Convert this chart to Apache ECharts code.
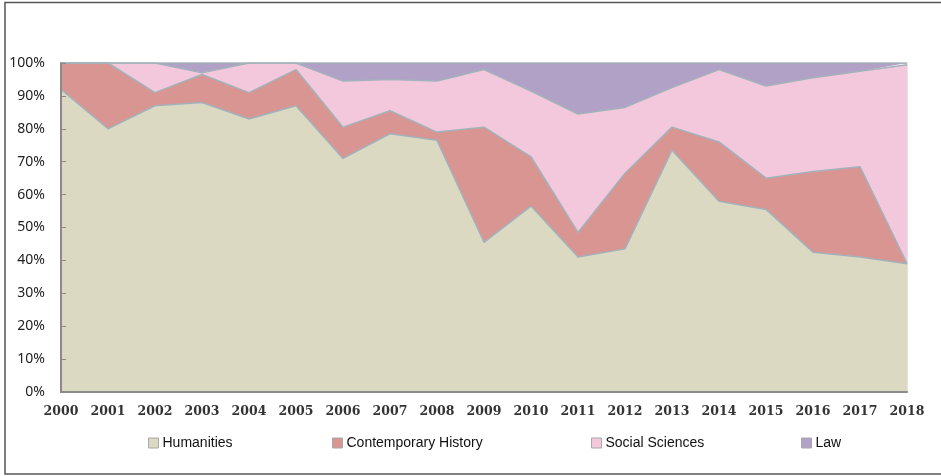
<!DOCTYPE html>
<html>
<head>
<meta charset="utf-8">
<script src="https://cdn.jsdelivr.net/npm/echarts@6/dist/echarts.min.js"></script>
<style>html,body{margin:0;padding:0;background:#fff;}#c{width:941px;height:476px;}</style>
</head>
<body>
<div id="c"></div>
<script>
const years = ['2000','2001','2002','2003','2004','2005','2006','2007','2008','2009','2010','2011','2012','2013','2014','2015','2016','2017','2018'];
const humanities = [92, 80, 87, 88, 83, 87, 71, 78.5, 76.5, 45.5, 56.5, 41, 43.5, 73.5, 58, 55.5, 42.5, 41, 39];
const contemporaryHistory = [8, 20, 4, 8.5, 8, 11, 9.5, 7, 2.5, 35, 15, 7.5, 23, 7, 18, 9.5, 24.5, 27.5, 0];
const socialSciences = [0, 0, 9, 0.5, 9, 2, 14, 9.5, 15.5, 17.5, 20, 36, 20, 12, 22, 28, 28.5, 29, 60.5];
const law = [0, 0, 0, 3, 0, 0, 5.5, 5, 5.5, 2, 8.5, 15.5, 13.5, 7.5, 2, 7, 4.5, 2.5, 0.5];
const seriesNames = ['Humanities', 'Contemporary History', 'Social Sciences', 'Law'];
const colors = ['#dcd9c3', '#d89592', '#f3c8dc', '#b2a1c7'];

const chart = echarts.init(document.getElementById('c'), null, {renderer: 'canvas'});
const dataSets = [humanities, contemporaryHistory, socialSciences, law];
const legendLefts = [143, 327, 586, 796];

const option = {
  animation: false,
  backgroundColor: '#fff',
  color: colors,
  grid: {left: 61, right: 34, top: 63, bottom: 84, show: true, borderColor: '#c8c8c8', borderWidth: 1, backgroundColor: 'transparent'},
  legend: seriesNames.map((n, i) => ({
    data: [n], left: legendLefts[i], top: 431, icon: 'rect', itemWidth: 10, itemHeight: 10, itemGap: 4,
    itemStyle: {borderColor: '#a8a8a8', borderWidth: 1},
    textStyle: {fontFamily: 'Liberation Sans', fontSize: 14, color: '#111', padding: [0, 0, 0, -1]}
  })),
  xAxis: {
    type: 'category', data: years, boundaryGap: false,
    axisLine: {lineStyle: {color: '#8a8a8a', width: 2}},
    axisTick: {show: false},
    axisLabel: {interval: 0, fontFamily: 'DejaVu Serif', fontWeight: 'bold', fontSize: 12.5, color: '#333', margin: 13},
    splitLine: {show: false}, z: 10
  },
  yAxis: {
    type: 'value', min: 0, max: 100, interval: 10,
    axisLine: {show: true, lineStyle: {color: '#8a8a8a', width: 2}},
    axisTick: {show: true, inside: true, length: 5, lineStyle: {color: '#8a8a8a'}},
    axisLabel: {formatter: '{value}%', fontFamily: 'Noto Sans', fontSize: 14, color: '#222', margin: 16},
    splitLine: {show: false}, z: 10
  },
  graphic: [{
    type: 'rect', shape: {x: 5, y: 2.5, width: 960, height: 471.5},
    style: {fill: 'none', stroke: '#555', lineWidth: 1.5}, silent: true
  }],
  series: seriesNames.map((n, i) => ({
    name: n, type: 'line', stack: 'total', data: dataSets[i],
    symbol: 'none', smooth: false,
    lineStyle: {color: '#a3b2ba', width: 1.5},
    areaStyle: {color: colors[i], opacity: 1},
    itemStyle: {color: colors[i]}
  }))
};
chart.setOption(option);
</script>
</body>
</html>
